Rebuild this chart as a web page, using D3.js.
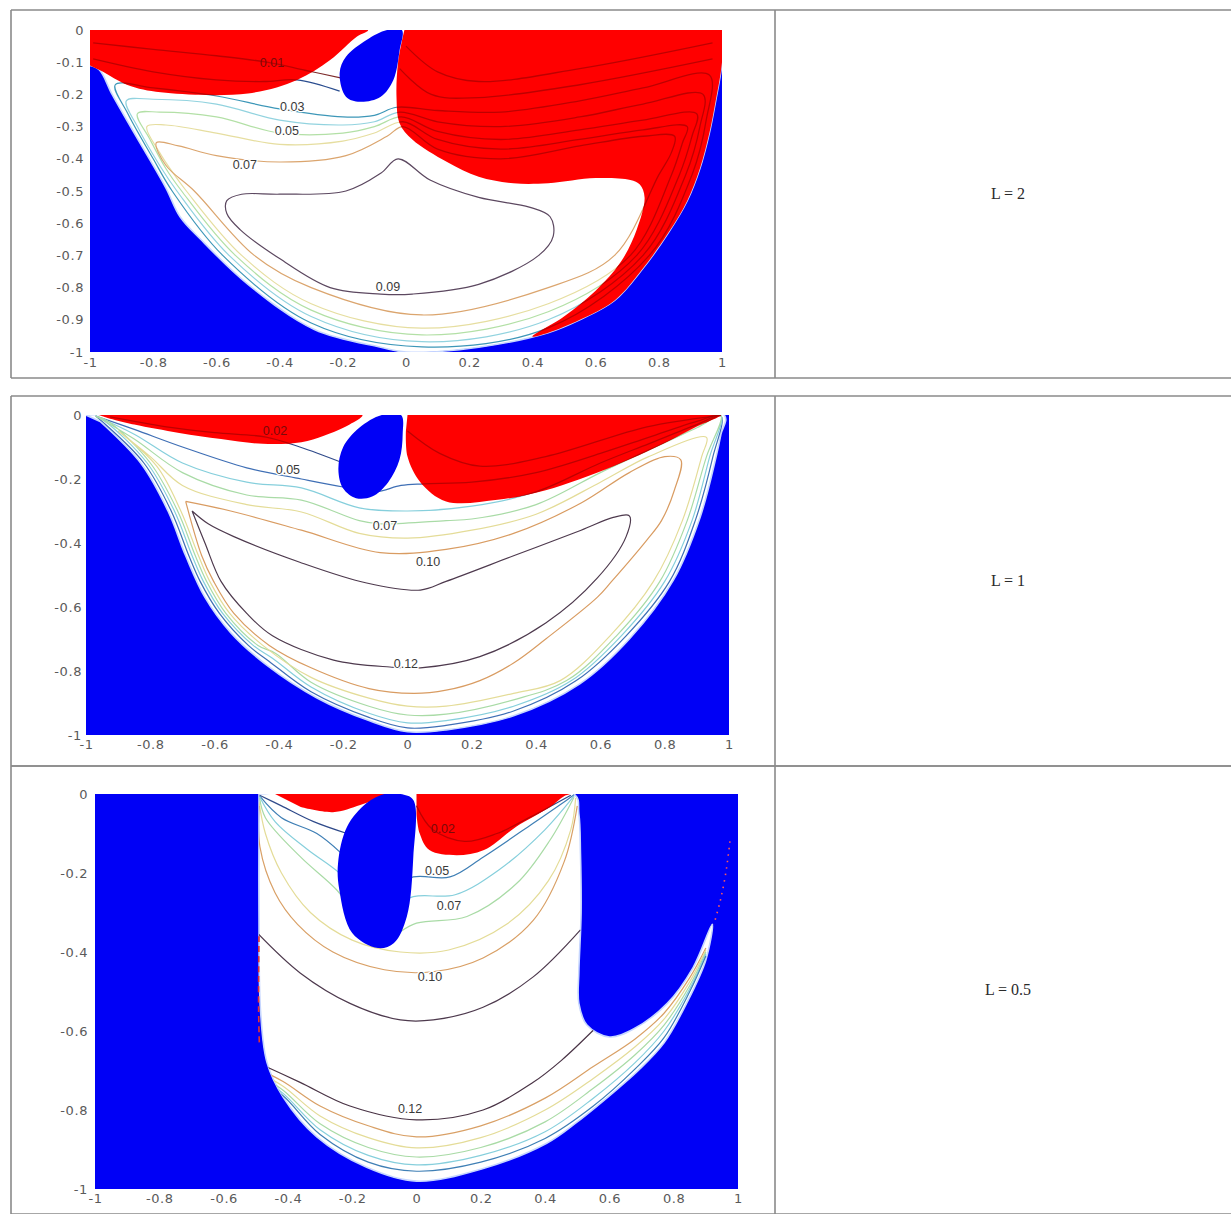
<!DOCTYPE html>
<html>
<head>
<meta charset="utf-8">
<script src="https://cdn.jsdelivr.net/npm/d3@7"></script>
<style>
  body { margin: 0; background: #fff; }
  svg { display: block; }
</style>
</head>
<body>
<div id="chart"></div>
<script>
// ---------- shared axis values ----------
const xTicks = [-1, -0.8, -0.6, -0.4, -0.2, 0, 0.2, 0.4, 0.6, 0.8, 1];
const xTickLabels = ["-1", "-0.8", "-0.6", "-0.4", "-0.2", "0", "0.2", "0.4", "0.6", "0.8", "1"];
const yTicksFine = [0, -0.1, -0.2, -0.3, -0.4, -0.5, -0.6, -0.7, -0.8, -0.9, -1];
const yLabelsFine = ["0", "-0.1", "-0.2", "-0.3", "-0.4", "-0.5", "-0.6", "-0.7", "-0.8", "-0.9", "-1"];
const yTicksCoarse = [0, -0.2, -0.4, -0.6, -0.8, -1];
const yLabelsCoarse = ["0", "-0.2", "-0.4", "-0.6", "-0.8", "-1"];
const rowTitles = ["L = 2", "L = 1", "L = 0.5"];

// ---------- panel 1 : L = 2 ----------
const p1Domain = [[-1,0],[1,0],[1,-0.1],[0.98,-0.22],[0.96,-0.32],[0.93,-0.43],[0.89,-0.53],[0.83,-0.63],[0.75,-0.74],[0.66,-0.84],[0.55,-0.9],[0.45,-0.94],[0.23,-0.985],[0,-1],[-0.08,-0.985],[-0.29,-0.93],[-0.5,-0.79],[-0.65,-0.65],[-0.715,-0.58],[-0.76,-0.49],[-0.86,-0.32],[-0.93,-0.2],[-0.97,-0.124],[-1,-0.11]];
const p1RedA = [[-1,0],[-0.12,0],[-0.155,-0.02],[-0.24,-0.093],[-0.345,-0.155],[-0.5,-0.197],[-0.76,-0.195],[-0.87,-0.175],[-0.97,-0.124],[-1,-0.11]];
const p1RedB = [[0,0],[1,0],[1,-0.1],[0.98,-0.22],[0.96,-0.32],[0.93,-0.43],[0.89,-0.53],[0.83,-0.63],[0.75,-0.74],[0.66,-0.84],[0.55,-0.9],[0.45,-0.94],[0.4,-0.952],[0.5,-0.89],[0.6,-0.81],[0.68,-0.72],[0.73,-0.62],[0.755,-0.52],[0.74,-0.48],[0.71,-0.466],[0.6,-0.46],[0.45,-0.476],[0.34,-0.476],[0.23,-0.456],[0.13,-0.41],[0.02,-0.34],[-0.02,-0.29],[-0.03,-0.21],[-0.025,-0.1],[-0.005,0]];
const p1Blob = [[-0.06,0],[-0.013,0],[-0.02,-0.062],[-0.04,-0.155],[-0.08,-0.207],[-0.146,-0.223],[-0.19,-0.207],[-0.21,-0.134],[-0.19,-0.083],[-0.125,-0.031]];
const p1c01a = [[-0.99,-0.04],[-0.8,-0.06],[-0.6,-0.08],[-0.44,-0.1],[-0.32,-0.125],[-0.2,-0.15]];
const p1c01b = [[0,-0.05],[0.1,-0.13],[0.23,-0.16],[0.55,-0.12],[0.97,-0.04]];
const p1c02a = [[-0.99,-0.09],[-0.8,-0.13],[-0.6,-0.155],[-0.45,-0.16],[-0.345,-0.155],[-0.21,-0.19]];
const p1c02b = [[-0.02,-0.12],[0.08,-0.2],[0.23,-0.21],[0.55,-0.17],[0.97,-0.09]];
const p1c03 = [[0.96,-0.14],[0.75,-0.18],[0.55,-0.22],[0.3,-0.255],[0.1,-0.25],[-0.03,-0.24],[-0.1,-0.265],[-0.2,-0.27],[-0.4,-0.245],[-0.6,-0.205],[-0.8,-0.18],[-0.92,-0.17],[-0.88,-0.26],[-0.8,-0.4],[-0.74,-0.5],[-0.58,-0.7],[-0.3,-0.91],[0.05,-0.984],[0.45,-0.925],[0.77,-0.7],[0.905,-0.45],[0.95,-0.28]];
const p1c04 = [[0.94,-0.2],[0.75,-0.23],[0.55,-0.27],[0.3,-0.3],[0.1,-0.285],[-0.02,-0.255],[-0.1,-0.285],[-0.2,-0.295],[-0.4,-0.28],[-0.6,-0.23],[-0.8,-0.215],[-0.885,-0.22],[-0.85,-0.3],[-0.78,-0.42],[-0.725,-0.5],[-0.56,-0.7],[-0.3,-0.89],[0.05,-0.968],[0.45,-0.9],[0.75,-0.7],[0.885,-0.45],[0.93,-0.3]];
const p1c05 = [[0.92,-0.26],[0.75,-0.28],[0.55,-0.31],[0.3,-0.34],[0.1,-0.315],[-0.015,-0.27],[-0.1,-0.3],[-0.2,-0.32],[-0.4,-0.32],[-0.6,-0.27],[-0.78,-0.255],[-0.85,-0.26],[-0.81,-0.34],[-0.76,-0.43],[-0.71,-0.5],[-0.54,-0.7],[-0.3,-0.87],[0.05,-0.947],[0.45,-0.875],[0.73,-0.7],[0.865,-0.45],[0.905,-0.33]];
const p1c06 = [[0.89,-0.3],[0.75,-0.31],[0.55,-0.34],[0.3,-0.37],[0.1,-0.34],[-0.01,-0.285],[-0.1,-0.32],[-0.2,-0.345],[-0.4,-0.355],[-0.6,-0.32],[-0.76,-0.295],[-0.82,-0.3],[-0.78,-0.38],[-0.74,-0.44],[-0.695,-0.5],[-0.52,-0.7],[-0.3,-0.85],[0.05,-0.926],[0.45,-0.85],[0.71,-0.7],[0.84,-0.45],[0.875,-0.35]];
const p1c07 = [[0.85,-0.33],[0.75,-0.33],[0.55,-0.36],[0.3,-0.4],[0.1,-0.37],[-0.01,-0.3],[-0.06,-0.33],[-0.19,-0.39],[-0.4,-0.41],[-0.6,-0.39],[-0.72,-0.36],[-0.79,-0.35],[-0.76,-0.42],[-0.67,-0.5],[-0.48,-0.7],[-0.3,-0.8],[0.05,-0.885],[0.45,-0.8],[0.66,-0.7],[0.8,-0.45],[0.84,-0.38]];
const p1c09 = [[-0.567,-0.53],[-0.52,-0.51],[-0.4,-0.51],[-0.19,-0.5],[-0.08,-0.445],[-0.025,-0.4],[0.076,-0.466],[0.23,-0.52],[0.39,-0.55],[0.456,-0.58],[0.466,-0.64],[0.42,-0.7],[0.23,-0.79],[0.02,-0.82],[-0.08,-0.82],[-0.24,-0.8],[-0.4,-0.71],[-0.525,-0.62],[-0.567,-0.57]];
const p1Labels = [
  { t: "0.01", x: -0.424, y: -0.106 },
  { t: "0.03", x: -0.36, y: -0.24 },
  { t: "0.05", x: -0.377, y: -0.317 },
  { t: "0.07", x: -0.51, y: -0.42 },
  { t: "0.09", x: -0.057, y: -0.8 }
];

// ---------- panel 2 : L = 1 ----------
const p2Domain = [[-1,0],[0.985,0],[0.975,-0.06],[0.96,-0.13],[0.91,-0.32],[0.827,-0.516],[0.69,-0.7],[0.536,-0.84],[0.33,-0.94],[0.12,-0.984],[0,-0.99],[-0.12,-0.955],[-0.28,-0.885],[-0.44,-0.78],[-0.55,-0.68],[-0.63,-0.57],[-0.69,-0.44],[-0.745,-0.3],[-0.83,-0.15],[-0.956,-0.02]];
const p2RedA = [[-0.96,0],[-0.14,0],[-0.18,-0.03],[-0.26,-0.065],[-0.33,-0.085],[-0.45,-0.09],[-0.58,-0.075],[-0.71,-0.056],[-0.85,-0.03],[-0.93,-0.01]];
const p2RedB = [[0,0],[0.975,0],[0.97,-0.005],[0.9,-0.036],[0.795,-0.09],[0.64,-0.16],[0.43,-0.235],[0.28,-0.265],[0.12,-0.27],[0.04,-0.21],[0,-0.13],[-0.005,-0.05]];
const p2Blob = [[-0.02,0],[-0.015,-0.06],[-0.025,-0.14],[-0.06,-0.21],[-0.11,-0.255],[-0.16,-0.26],[-0.2,-0.23],[-0.215,-0.17],[-0.2,-0.1],[-0.15,-0.04],[-0.08,0]];
const p2c02a = [[-0.925,-0.006],[-0.75,-0.037],[-0.6,-0.055],[-0.44,-0.069],[-0.335,-0.1],[-0.2,-0.15]];
const p2c02b = [[0,-0.05],[0.1,-0.12],[0.225,-0.16],[0.43,-0.13],[0.745,-0.037],[0.95,-0.004]];
const p2c05 = [[-0.97,-0.003],[-0.85,-0.045],[-0.7,-0.1],[-0.5,-0.165],[-0.33,-0.2],[-0.2,-0.225],[-0.1,-0.24],[-0.02,-0.22],[0.05,-0.215],[0.2,-0.21],[0.4,-0.18],[0.6,-0.12],[0.75,-0.07],[0.9,-0.02],[0.975,-0.003],[0.95,-0.13],[0.895,-0.33],[0.815,-0.52],[0.68,-0.69],[0.525,-0.83],[0.33,-0.925],[0.12,-0.97],[0,-0.978],[-0.12,-0.945],[-0.3,-0.865],[-0.43,-0.77],[-0.495,-0.72],[-0.585,-0.62],[-0.645,-0.52],[-0.68,-0.44],[-0.735,-0.3],[-0.82,-0.15],[-0.95,-0.02],[-0.97,-0.003]];
const p2c06 = [[-0.97,-0.003],[-0.85,-0.06],[-0.7,-0.15],[-0.5,-0.21],[-0.33,-0.228],[-0.15,-0.29],[0,-0.3],[0.2,-0.285],[0.4,-0.24],[0.6,-0.15],[0.75,-0.09],[0.9,-0.03],[0.975,-0.003],[0.94,-0.13],[0.885,-0.33],[0.8,-0.52],[0.665,-0.69],[0.51,-0.83],[0.33,-0.91],[0.12,-0.955],[0,-0.962],[-0.12,-0.932],[-0.3,-0.85],[-0.42,-0.76],[-0.48,-0.72],[-0.575,-0.62],[-0.635,-0.52],[-0.67,-0.44],[-0.725,-0.3],[-0.81,-0.15],[-0.94,-0.02],[-0.97,-0.003]];
const p2c07 = [[-0.97,-0.003],[-0.85,-0.075],[-0.7,-0.18],[-0.5,-0.25],[-0.33,-0.266],[-0.15,-0.33],[-0.085,-0.34],[0.12,-0.33],[0.2,-0.325],[0.4,-0.28],[0.6,-0.18],[0.75,-0.11],[0.9,-0.04],[0.975,-0.003],[0.93,-0.13],[0.87,-0.33],[0.785,-0.52],[0.65,-0.69],[0.495,-0.83],[0.33,-0.89],[0.12,-0.935],[0,-0.9375],[-0.12,-0.91],[-0.3,-0.835],[-0.41,-0.745],[-0.465,-0.72],[-0.565,-0.62],[-0.625,-0.52],[-0.66,-0.44],[-0.715,-0.3],[-0.8,-0.15],[-0.93,-0.02],[-0.97,-0.003]];
const p2c08 = [[-0.9,-0.05],[-0.8,-0.13],[-0.7,-0.22],[-0.5,-0.28],[-0.33,-0.303],[-0.15,-0.37],[0,-0.385],[0.2,-0.36],[0.4,-0.31],[0.6,-0.21],[0.75,-0.13],[0.93,-0.07],[0.915,-0.13],[0.855,-0.33],[0.765,-0.52],[0.63,-0.69],[0.475,-0.83],[0.33,-0.87],[0.12,-0.91],[0,-0.91],[-0.12,-0.885],[-0.3,-0.82],[-0.45,-0.72],[-0.553,-0.62],[-0.615,-0.52],[-0.65,-0.44],[-0.705,-0.3],[-0.78,-0.16],[-0.9,-0.05]];
const p2c10 = [[-0.69,-0.27],[-0.55,-0.3],[-0.33,-0.36],[-0.085,-0.43],[0.12,-0.42],[0.33,-0.37],[0.54,-0.275],[0.69,-0.18],[0.8,-0.13],[0.85,-0.14],[0.83,-0.235],[0.79,-0.33],[0.745,-0.39],[0.635,-0.52],[0.59,-0.57],[0.43,-0.7],[0.33,-0.775],[0.225,-0.83],[0.12,-0.86],[0.02,-0.87],[-0.12,-0.855],[-0.3,-0.79],[-0.43,-0.72],[-0.54,-0.62],[-0.603,-0.52],[-0.64,-0.44],[-0.69,-0.27]];
const p2c12 = [[-0.67,-0.3],[-0.62,-0.34],[-0.54,-0.38],[-0.335,-0.46],[-0.127,-0.525],[0.04,-0.547],[0.12,-0.52],[0.33,-0.44],[0.54,-0.36],[0.64,-0.32],[0.69,-0.315],[0.68,-0.38],[0.59,-0.51],[0.43,-0.65],[0.225,-0.755],[0.04,-0.79],[-0.055,-0.7875],[-0.23,-0.766],[-0.42,-0.69],[-0.5,-0.62],[-0.58,-0.52],[-0.63,-0.4],[-0.67,-0.3]];
const p2Labels = [
  { t: "0.02", x: -0.412, y: -0.053 },
  { t: "0.05", x: -0.372, y: -0.175 },
  { t: "0.07", x: -0.07, y: -0.35 },
  { t: "0.10", x: 0.064, y: -0.4625 },
  { t: "0.12", x: -0.005, y: -0.781 }
];

// ---------- panel 3 : L = 0.5 ----------
const p3Domain = [[-0.49,0],[0.49,0],[0.505,-0.05],[0.51,-0.15],[0.512,-0.3],[0.505,-0.45],[0.505,-0.53],[0.53,-0.585],[0.6,-0.615],[0.675,-0.595],[0.78,-0.53],[0.86,-0.44],[0.92,-0.33],[0.9,-0.42],[0.84,-0.53],[0.77,-0.63],[0.69,-0.7],[0.61,-0.757],[0.5,-0.83],[0.405,-0.884],[0.2,-0.95],[0,-0.98],[-0.155,-0.945],[-0.31,-0.868],[-0.415,-0.767],[-0.465,-0.68],[-0.485,-0.55],[-0.49,-0.3],[-0.49,-0.1]];
const p3RedA = [[-0.44,0],[-0.1,0],[-0.11,-0.007],[-0.175,-0.028],[-0.26,-0.046],[-0.36,-0.033]];
const p3RedB = [[0,0],[0.477,0],[0.46,-0.005],[0.415,-0.033],[0.31,-0.083],[0.21,-0.142],[0.125,-0.155],[0.04,-0.142],[0.01,-0.1],[0,-0.05]];
const p3Blob = [[-0.05,0],[-0.01,-0.015],[-0.01,-0.16],[-0.03,-0.31],[-0.07,-0.377],[-0.12,-0.39],[-0.2,-0.352],[-0.24,-0.243],[-0.244,-0.175],[-0.216,-0.083],[-0.155,-0.023],[-0.1,0]];
const p3c02a = [[-0.488,-0.003],[-0.42,-0.03],[-0.32,-0.07],[-0.216,-0.1]];
const p3c02b = [[0,-0.03],[0.05,-0.09],[0.15,-0.12],[0.25,-0.1],[0.35,-0.06],[0.48,-0.003]];
const p3c05 = [[-0.488,-0.005],[-0.42,-0.06],[-0.31,-0.1],[-0.238,-0.147],[-0.12,-0.25],[-0.01,-0.21],[0.104,-0.21],[0.207,-0.16],[0.363,-0.074],[0.468,-0.015],[0.49,-0.002]];
const p3c06 = [[-0.488,-0.007],[-0.44,-0.07],[-0.34,-0.14],[-0.24,-0.2],[-0.12,-0.3],[-0.01,-0.26],[0.12,-0.255],[0.26,-0.19],[0.4,-0.09],[0.49,-0.005]];
const p3c07 = [[-0.488,-0.01],[-0.47,-0.06],[-0.36,-0.16],[-0.248,-0.243],[-0.12,-0.37],[0,-0.327],[0.157,-0.31],[0.312,-0.226],[0.415,-0.117],[0.49,-0.008]];
const p3c08 = [[-0.49,-0.02],[-0.47,-0.1],[-0.42,-0.2],[-0.33,-0.3],[-0.2,-0.37],[-0.05,-0.4],[0.1,-0.395],[0.28,-0.33],[0.41,-0.22],[0.48,-0.09],[0.495,-0.01]];
const p3c09 = [[-0.49,-0.03],[-0.487,-0.134],[-0.44,-0.25],[-0.37,-0.33],[-0.26,-0.4],[-0.1,-0.445],[0.05,-0.45],[0.207,-0.415],[0.363,-0.32],[0.46,-0.17],[0.5,-0.03]];
const p3c10 = [[-0.495,-0.352],[-0.362,-0.453],[-0.207,-0.53],[-0.05,-0.572],[0.052,-0.572],[0.207,-0.54],[0.363,-0.463],[0.51,-0.344]];
const p3c12 = [[-0.495,-0.68],[-0.362,-0.73],[-0.207,-0.79],[0,-0.825],[0.207,-0.8],[0.363,-0.73],[0.45,-0.675],[0.56,-0.59]];
const p3c09b = [[-0.495,-0.695],[-0.415,-0.728],[-0.3,-0.79],[-0.15,-0.84],[0,-0.868],[0.2,-0.84],[0.4,-0.77],[0.55,-0.69],[0.68,-0.62],[0.77,-0.555],[0.85,-0.465],[0.9,-0.39]];
const p3c08b = [[-0.49,-0.705],[-0.415,-0.74],[-0.3,-0.815],[-0.15,-0.87],[0,-0.896],[0.2,-0.87],[0.4,-0.8],[0.55,-0.72],[0.68,-0.64],[0.77,-0.57],[0.85,-0.475],[0.9,-0.395]];
const p3c07b = [[-0.48,-0.715],[-0.415,-0.75],[-0.3,-0.835],[-0.15,-0.895],[0,-0.919],[0.2,-0.895],[0.4,-0.83],[0.55,-0.745],[0.68,-0.66],[0.77,-0.585],[0.85,-0.485],[0.9,-0.4]];
const p3c06b = [[-0.475,-0.725],[-0.415,-0.758],[-0.3,-0.85],[-0.15,-0.915],[0,-0.939],[0.2,-0.915],[0.4,-0.855],[0.55,-0.77],[0.68,-0.68],[0.77,-0.6],[0.85,-0.493],[0.9,-0.405]];
const p3c05b = [[-0.47,-0.735],[-0.415,-0.764],[-0.3,-0.862],[-0.15,-0.932],[0,-0.955],[0.2,-0.932],[0.4,-0.872],[0.55,-0.79],[0.68,-0.696],[0.77,-0.617],[0.85,-0.5],[0.9,-0.41]];
const p3WallFringe = [[-0.49,-0.36],[-0.491,-0.45],[-0.491,-0.55],[-0.489,-0.63]];
const p3ArcDots = [[0.975,-0.12],[0.962,-0.2],[0.945,-0.27],[0.925,-0.33]];
const p3Labels = [
  { t: "0.02", x: 0.082, y: -0.091 },
  { t: "0.05", x: 0.064, y: -0.197 },
  { t: "0.07", x: 0.101, y: -0.286 },
  { t: "0.10", x: 0.042, y: -0.466 },
  { t: "0.12", x: -0.02, y: -0.8 }
];

// ---------- styles ----------
const BLUE = "#0000f6", RED = "#ff0000";
const p1Colors = { 0.01: "#7d2b2b", 0.02: "#2a4d8f", 0.03: "#3d97b8", 0.04: "#92d3df", 0.05: "#b3e0a6", 0.06: "#e6dea0", 0.07: "#dba56e", 0.09: "#5c4860" };
const p2Colors = { 0.02: "#2f4a8a", 0.05: "#3f6fb5", 0.06: "#86cfdc", 0.07: "#a9dba6", 0.08: "#e4dc98", 0.10: "#d99c62", 0.12: "#4e3a4e" };
const p3Colors = { 0.02: "#2f4a8a", 0.05: "#3f7fb5", 0.06: "#86cfdc", 0.07: "#a9dba6", 0.08: "#e4dc98", 0.09: "#d9a066", 0.10: "#4e3a4e", 0.12: "#4a3446" };

const panels = [
  {
    box: { left: 90, right: 722, top: 30, bottom: 352 }, yPad: 6, xPad: 6,
    yTicks: yTicksFine, yLabels: yLabelsFine,
    domain: p1Domain, reds: [p1RedA, p1RedB], blobs: [p1Blob], colors: p1Colors,
    lines: [
      { lvl: 0.01, pts: p1c01a }, { lvl: 0.01, pts: p1c01b },
      { lvl: 0.02, pts: p1c02a }, { lvl: 0.02, pts: p1c02b },
      { lvl: 0.03, pts: p1c03, closed: true }, { lvl: 0.04, pts: p1c04, closed: true },
      { lvl: 0.05, pts: p1c05, closed: true }, { lvl: 0.06, pts: p1c06, closed: true },
      { lvl: 0.07, pts: p1c07, closed: true }, { lvl: 0.09, pts: p1c09, closed: true }
    ],
    labels: p1Labels, fringe: [], dots: []
  },
  {
    box: { left: 86, right: 729, top: 415, bottom: 735 }, yPad: 4, xPad: 5,
    yTicks: yTicksCoarse, yLabels: yLabelsCoarse,
    domain: p2Domain, reds: [p2RedA, p2RedB], blobs: [p2Blob], colors: p2Colors,
    lines: [
      { lvl: 0.02, pts: p2c02a }, { lvl: 0.02, pts: p2c02b },
      { lvl: 0.05, pts: p2c05 }, { lvl: 0.06, pts: p2c06 }, { lvl: 0.07, pts: p2c07 },
      { lvl: 0.08, pts: p2c08 }, { lvl: 0.10, pts: p2c10 }, { lvl: 0.12, pts: p2c12 }
    ],
    labels: p2Labels, fringe: [], dots: []
  },
  {
    box: { left: 95, right: 738, top: 794, bottom: 1189 }, yPad: 7, xPad: 5,
    yTicks: yTicksCoarse, yLabels: yLabelsCoarse,
    domain: p3Domain, reds: [p3RedA, p3RedB], blobs: [p3Blob], colors: p3Colors,
    lines: [
      { lvl: 0.02, pts: p3c02a }, { lvl: 0.02, pts: p3c02b },
      { lvl: 0.05, pts: p3c05 }, { lvl: 0.06, pts: p3c06 }, { lvl: 0.07, pts: p3c07 },
      { lvl: 0.08, pts: p3c08 }, { lvl: 0.09, pts: p3c09 }, { lvl: 0.10, pts: p3c10 },
      { lvl: 0.12, pts: p3c12 },
      { lvl: 0.09, pts: p3c09b }, { lvl: 0.08, pts: p3c08b }, { lvl: 0.07, pts: p3c07b },
      { lvl: 0.06, pts: p3c06b }, { lvl: 0.05, pts: p3c05b }
    ],
    labels: p3Labels, fringe: [p3WallFringe], dots: [p3ArcDots]
  }
];

// ---------- table layout ----------
const rows = [{ y0: 10, y1: 378 }, { y0: 396, y1: 766 }, { y0: 766, y1: 1214 }];
const tableLeft = 11, tableMid = 775, tableRight = 1231;

const svg = d3.select("#chart").append("svg")
    .attr("width", 1231)
    .attr("height", 1214);

const grid = svg.append("g")
    .attr("stroke", "#8a8a8a")
    .attr("stroke-width", 1.6)
    .attr("fill", "none");

rows.forEach((r, i) => {
    grid.append("line").attr("x1", tableLeft).attr("x2", tableRight).attr("y1", r.y0).attr("y2", r.y0);
    grid.append("line").attr("x1", tableLeft).attr("x2", tableRight).attr("y1", r.y1).attr("y2", r.y1);
    grid.append("line").attr("x1", tableLeft).attr("x2", tableLeft).attr("y1", r.y0).attr("y2", r.y1);
    grid.append("line").attr("x1", tableMid).attr("x2", tableMid).attr("y1", r.y0).attr("y2", r.y1);

    svg.append("text")
        .attr("x", 1008)
        .attr("y", (r.y0 + r.y1) / 2 + 1)
        .attr("text-anchor", "middle")
        .attr("dominant-baseline", "middle")
        .attr("font-family", "Liberation Serif, serif")
        .attr("font-size", 16)
        .attr("fill", "#2a2a2a")
        .text(rowTitles[i]);
});

// ---------- panels ----------
const defs = svg.append("defs");

panels.forEach((p, idx) => {
    const x = d3.scaleLinear().domain([-1, 1]).range([p.box.left, p.box.right]);
    const y = d3.scaleLinear().domain([-1, 0]).range([p.box.bottom, p.box.top]);

    const open = d3.line().x(d => x(d[0])).y(d => y(d[1])).curve(d3.curveCatmullRom.alpha(0.5));
    const loop = d3.line().x(d => x(d[0])).y(d => y(d[1])).curve(d3.curveCatmullRomClosed.alpha(0.5));
    const poly = pts => open(pts) + "Z";
    const linePath = d => d.closed ? loop(d.pts) : open(d.pts);

    defs.append("clipPath").attr("id", "plot" + idx)
        .append("rect")
        .attr("x", p.box.left).attr("y", p.box.top)
        .attr("width", p.box.right - p.box.left)
        .attr("height", p.box.bottom - p.box.top);
    defs.append("clipPath").attr("id", "dom" + idx)
        .append("path").attr("d", poly(p.domain));
    const redClip = defs.append("clipPath").attr("id", "red" + idx);
    p.reds.forEach(r => redClip.append("path").attr("d", poly(r)));

    const g = svg.append("g").attr("clip-path", `url(#plot${idx})`);

    // blue background (outside the domain)
    g.append("rect")
        .attr("x", p.box.left).attr("y", p.box.top)
        .attr("width", p.box.right - p.box.left)
        .attr("height", p.box.bottom - p.box.top)
        .attr("fill", BLUE);

    // white domain with a pale fringe
    g.append("path")
        .attr("d", poly(p.domain))
        .attr("fill", "#fff")
        .attr("stroke", "#c6d6ff")
        .attr("stroke-width", 1.6);

    // contour lines
    g.append("g").attr("clip-path", `url(#dom${idx})`)
        .selectAll("path")
        .data(p.lines)
        .enter()
        .append("path")
        .attr("d", linePath)
        .attr("fill", "none")
        .attr("stroke", d => p.colors[d.lvl])
        .attr("stroke-width", 1.2);

    // contour labels
    g.append("g")
        .selectAll("text")
        .data(p.labels)
        .enter()
        .append("text")
        .attr("x", d => x(d.x))
        .attr("y", d => y(d.y))
        .attr("text-anchor", "middle")
        .attr("dominant-baseline", "middle")
        .attr("font-family", "Liberation Sans, Arial, sans-serif")
        .attr("font-size", 12.5)
        .attr("fill", "#3a3a3a")
        .attr("stroke", "#fff")
        .attr("stroke-width", 2.5)
        .attr("paint-order", "stroke")
        .text(d => d.t);

    // red regions
    g.append("g")
        .selectAll("path")
        .data(p.reds)
        .enter()
        .append("path")
        .attr("d", poly)
        .attr("fill", RED);

    // contour lines and labels seen through the red regions
    const inRed = g.append("g").attr("clip-path", `url(#red${idx})`);
    inRed.selectAll("path")
        .data(p.lines)
        .enter()
        .append("path")
        .attr("d", linePath)
        .attr("fill", "none")
        .attr("stroke", "#a30000")
        .attr("stroke-opacity", 0.7)
        .attr("stroke-width", 1.3);
    inRed.selectAll("text")
        .data(p.labels)
        .enter()
        .append("text")
        .attr("x", d => x(d.x))
        .attr("y", d => y(d.y))
        .attr("text-anchor", "middle")
        .attr("dominant-baseline", "middle")
        .attr("font-family", "Liberation Sans, Arial, sans-serif")
        .attr("font-size", 12.5)
        .attr("fill", "#7a0a0a")
        .text(d => d.t);

    // blue blobs
    g.append("g")
        .selectAll("path")
        .data(p.blobs)
        .enter()
        .append("path")
        .attr("d", loop)
        .attr("fill", BLUE);

    // speckled edges
    g.append("g")
        .selectAll("path")
        .data(p.fringe)
        .enter()
        .append("path")
        .attr("d", open)
        .attr("fill", "none")
        .attr("stroke", "#e83030")
        .attr("stroke-width", 1.6)
        .attr("stroke-dasharray", "6,4");
    g.append("g")
        .selectAll("path")
        .data(p.dots)
        .enter()
        .append("path")
        .attr("d", open)
        .attr("fill", "none")
        .attr("stroke", "#ff5a5a")
        .attr("stroke-width", 1.6)
        .attr("stroke-dasharray", "1.5,5");

    // axes
    const xAxis = svg.append("g")
        .attr("transform", `translate(0,${p.box.bottom})`)
        .call(d3.axisBottom(x).tickValues(xTicks).tickFormat((d, i) => xTickLabels[i]).tickSize(0).tickPadding(p.xPad));
    const yAxis = svg.append("g")
        .attr("transform", `translate(${p.box.left},0)`)
        .call(d3.axisLeft(y).tickValues(p.yTicks).tickFormat((d, i) => p.yLabels[i]).tickSize(0).tickPadding(p.yPad));
    [xAxis, yAxis].forEach(a => {
        a.select(".domain").remove();
        a.selectAll("text")
            .attr("font-family", "DejaVu Sans, sans-serif")
            .attr("font-size", 13)
            .attr("letter-spacing", 0.6)
            .attr("fill", "#5a5a5a");
    });
});
</script>
</body>
</html>
